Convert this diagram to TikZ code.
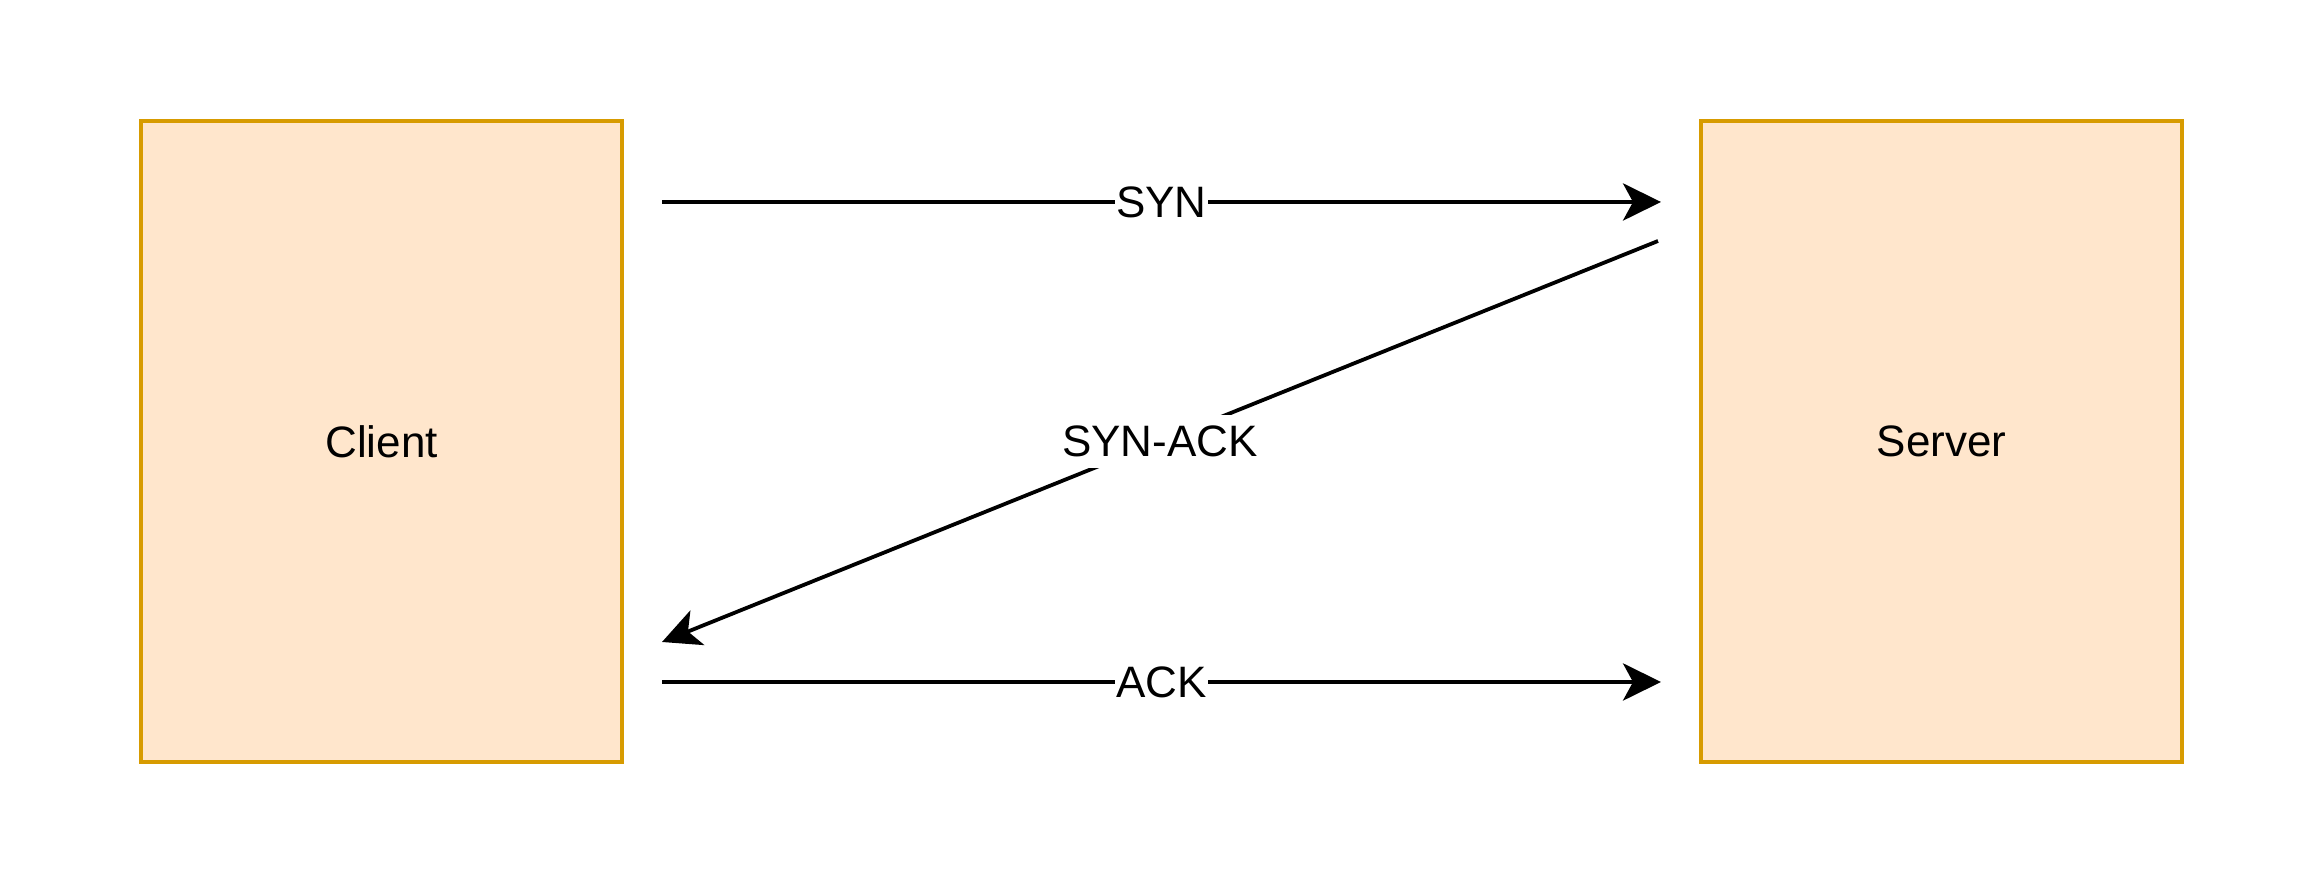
\documentclass[tikz,border=0pt]{standalone}
\usepackage{fontspec}
\setmainfont{Liberation Sans}
\usetikzlibrary{arrows.meta}
\definecolor{boxfill}{HTML}{FFE6CC}
\definecolor{boxdraw}{HTML}{D79B00}
\tikzset{
  hostbox/.style={draw=boxdraw, fill=boxfill, line width=0.95pt, minimum width=120.25pt, minimum height=160.25pt, inner sep=0pt, font=\fontsize{11}{13}\selectfont},
  msg/.style={line width=0.95pt, -{Stealth[length=9.5pt, width=9.3pt, inset=2.5pt]}},
  msglabel/.style={fill=white, inner xsep=0.4pt, inner ysep=0pt, minimum height=13.25pt, font=\fontsize{11}{13}\selectfont}
}
\begin{document}
\begin{tikzpicture}[x=0.25pt, y=-0.25pt]
\useasboundingbox (0,0) rectangle (2324,884);
\node[hostbox] (client) at (381.5,441.5) {Client};
\node[hostbox] (server) at (1941.5,441.5) {Server};
\coordinate (synA) at (662,202);
\coordinate (synB) at (1661,202);
\coordinate (saA) at (1658,241);
\coordinate (saB) at (662,642);
\coordinate (ackA) at (662,682);
\coordinate (ackB) at (1661,682);
\draw[msg] (synA) -- node[msglabel] {SYN} (synB);
\draw[msg] (saA) -- node[msglabel] {SYN-ACK} (saB);
\draw[msg] (ackA) -- node[msglabel] {ACK} (ackB);
\end{tikzpicture}
\end{document}
